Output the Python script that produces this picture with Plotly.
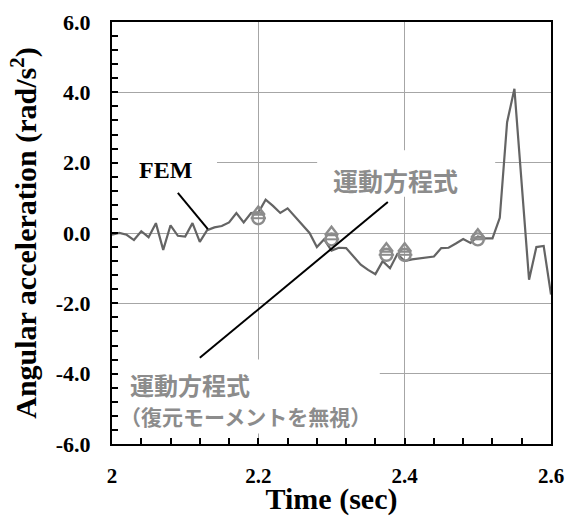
import numpy as np
import plotly.graph_objects as go

# ---- data ----
fem_time = [round(2.0 + 0.01 * i, 2) for i in range(61)]
fem_acc = [-0.05, 0.0, -0.05, -0.2, 0.05, -0.12, 0.28, -0.48, 0.22, -0.08,
           -0.1, 0.28, -0.25, 0.08, 0.16, 0.2, 0.3, 0.57, 0.3, 0.57,
           0.58, 0.95, 0.77, 0.57, 0.7, 0.46, 0.23, 0.0, -0.4, -0.18,
           -0.5, -0.42, -0.43, -0.68, -0.9, -1.05, -1.17, -0.8, -1.0, -0.6,
           -0.8, -0.75, -0.72, -0.68, -0.67, -0.43, -0.42, -0.3, -0.17, -0.28,
           -0.1, -0.15, -0.15, 0.43, 3.15, 4.1, 1.4, -1.33, -0.4, -0.37,
           -1.75]

eq_time = [2.2, 2.3, 2.375, 2.4, 2.5]
eq_acc = [0.6, 0.02, -0.45, -0.45, -0.05]          # 運動方程式
eq_norest_acc = [0.42, -0.18, -0.62, -0.62, -0.18]  # 運動方程式（復元モーメントを無視）

x_range = [2.0, 2.6]
y_range = [-6.0, 6.0]
y_tickvals = [-6, -4, -2, 0, 2, 4, 6]
y_ticktext = ["-6.0", "-4.0", "-2.0", "0.0", "2.0", "4.0", "6.0"]

label_fem = "FEM"
label_eq = "運動方程式"
label_eq2 = "運動方程式"
label_eq2b = "（復元モーメントを無視）"

# ---- styles ----
FEM_COLOR = "#646464"
MARK_COLOR = "#8c8c8c"
TEXT_GRAY = "#8c8c8c"
GRID = "#a6a6a6"
SERIF = "Liberation Serif"
CJK = "Noto Sans CJK JP"

fig = go.Figure()

fig.add_trace(go.Scatter(x=fem_time, y=fem_acc, mode="lines", name=label_fem,
                         line=dict(color=FEM_COLOR, width=2.2), showlegend=False))
fig.add_trace(go.Scatter(x=eq_time, y=eq_acc, mode="markers", name=label_eq,
                         marker=dict(symbol="triangle-up-open", size=11, color=MARK_COLOR,
                                     line=dict(color=MARK_COLOR, width=2.4)),
                         showlegend=False))
fig.add_trace(go.Scatter(x=eq_time, y=eq_norest_acc, mode="markers", name=label_eq2 + label_eq2b,
                         marker=dict(symbol="circle-open", size=12, color=MARK_COLOR,
                                     line=dict(color=MARK_COLOR, width=2.4)),
                         showlegend=False))
fig.add_trace(go.Scatter(x=eq_time, y=eq_norest_acc, mode="markers", hoverinfo="skip",
                         marker=dict(symbol="line-ew-open", size=11, color=MARK_COLOR,
                                     line=dict(color=MARK_COLOR, width=2)),
                         showlegend=False))

# white text boxes that hide the gridlines (between grid and traces)
for (x0, x1, y0, y1) in [(2.0, 2.1435, 1.2, 2.35), (2.2804, 2.5237, 1.03, 2.35),
                         (2.003, 2.366, -5.7, -3.6)]:
    fig.add_shape(type="rect", x0=x0, x1=x1, y0=y0, y1=y1, xref="x", yref="y",
                  fillcolor="white", line=dict(width=0), layer="between")

# pointer lines
fig.add_shape(type="line", x0=2.090, y0=1.14, x1=2.131, y1=0.11, xref="x", yref="y",
              line=dict(color="black", width=2), layer="above")
fig.add_shape(type="line", x0=2.120, y0=-3.55, x1=2.377, y1=0.88, xref="x", yref="y",
              line=dict(color="black", width=2), layer="above")

fig.add_annotation(x=2.0725, y=1.8, xref="x", yref="y", text="<b>" + label_fem + "</b>",
                   showarrow=False, font=dict(family=SERIF, size=24, color="black"))
fig.add_annotation(x=2.299, y=1.52, xref="x", yref="y", text="<b>" + label_eq + "</b>",
                   showarrow=False, xanchor="left",
                   font=dict(family=CJK, size=25, color=TEXT_GRAY))
fig.add_annotation(x=2.022, y=-4.3, xref="x", yref="y", text="<b>" + label_eq2 + "</b>",
                   showarrow=False, xanchor="left",
                   font=dict(family=CJK, size=24, color=TEXT_GRAY))
fig.add_annotation(x=2.008, y=-5.2, xref="x", yref="y", text="<b>" + label_eq2b + "</b>",
                   showarrow=False, xanchor="left",
                   font=dict(family=CJK, size=21, color=TEXT_GRAY))

fig.update_layout(
    width=566, height=516,
    margin=dict(l=112, r=15, t=22, b=72),
    plot_bgcolor="white", paper_bgcolor="white",
    showlegend=False,
)

fig.update_xaxes(
    range=x_range, tickmode="linear", tick0=2.0, dtick=0.2,
    showgrid=True, gridcolor=GRID, gridwidth=1,
    showline=True, linecolor="black", linewidth=2, mirror=True,
    ticks="inside", ticklen=6, tickwidth=2, tickcolor="black",
    minor=dict(tickmode="linear", tick0=2.0, dtick=0.04, ticks="inside",
               ticklen=6, tickwidth=2, tickcolor="black", showgrid=False),
    tickfont=dict(family=SERIF, size=21, color="black", weight="bold"),
    ticklabelstandoff=12, automargin=False,
    title=dict(text="<b>Time (sec)</b>", font=dict(family=SERIF, size=30, color="black"),
               standoff=10),
    zeroline=False,
)
fig.update_yaxes(
    range=y_range, tickmode="array", tickvals=y_tickvals, ticktext=y_ticktext,
    showgrid=True, gridcolor=GRID, gridwidth=1,
    showline=True, linecolor="black", linewidth=2, mirror=True,
    ticks="inside", ticklen=6, tickwidth=2, tickcolor="black",
    minor=dict(tickmode="linear", tick0=0, dtick=0.4, ticks="inside",
               ticklen=6, tickwidth=2, tickcolor="black", showgrid=False),
    tickfont=dict(family=SERIF, size=22, color="black", weight="bold"),
    ticklabelstandoff=15, automargin=False,
    title=dict(text="<b>Angular acceleration (rad/s<sup>2</sup>)</b>",
               font=dict(family=SERIF, size=30, color="black"), standoff=10),
    zeroline=False,
)

# remove the default page margin so the 566x516 figure fills the window exactly
fig.write_html("out.html", config={"displayModeBar": False},
               post_script="document.body.style.margin='0';document.body.style.overflow='hidden';")
